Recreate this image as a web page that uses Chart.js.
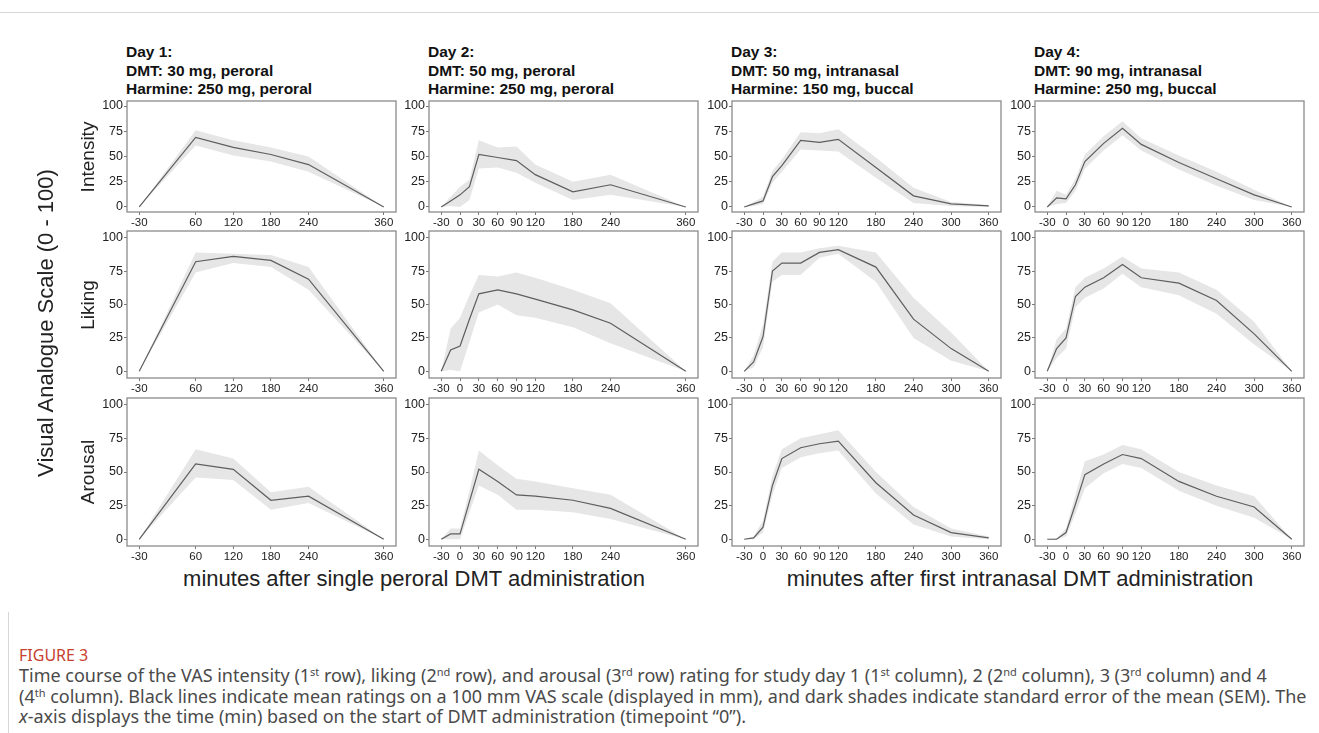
<!DOCTYPE html>
<html>
<head>
<meta charset="utf-8">
<script src="https://cdn.jsdelivr.net/npm/chart.js@4.4.1/dist/chart.umd.min.js"></script>
<style>
body { margin: 0; background: #fff; width: 1319px; height: 733px; position: relative; overflow: hidden;
       font-family: "Liberation Sans", Arial, sans-serif; }
.abs { position: absolute; }
.title { font-weight: bold; font-size: 15.5px; line-height: 18.5px; color: #111; white-space: nowrap; }
.rowlab { font-size: 19px; color: #222; transform: translate(-50%, -50%) rotate(-90deg); white-space: nowrap; }
.xtitle { font-size: 22px; color: #222; transform: translateX(-50%); white-space: nowrap; }
.ytitle { font-size: 22px; color: #222; transform: translate(-50%, -50%) rotate(-90deg); white-space: nowrap; }
#topline { left: 0; top: 12px; width: 1319px; height: 1px; background: #d6d6d6; }
#caption { left: 8px; top: 612px; height: 121px; border-left: 1px solid #d6d6d6; padding-left: 10px;
           font-family: "Noto Sans", sans-serif; color: #4a4a4a; font-size: 18px; }
#caption .fig { color: #c8412f; font-size: 16px; margin-top: 33px; line-height: 20px; }
#caption .txt { line-height: 20.5px; white-space: nowrap; }
sup { font-size: 11px; vertical-align: 6px; line-height: 0; }
</style>
</head>
<body>
<div class="abs" id="topline"></div>
<div id="fig"></div>
<div class="abs" id="caption">
  <div class="fig">FIGURE 3</div>
  <div class="txt">Time course of the VAS intensity (1<sup>st</sup> row), liking (2<sup>nd</sup> row), and arousal (3<sup>rd</sup> row) rating for study day 1 (1<sup>st</sup> column), 2 (2<sup>nd</sup> column), 3 (3<sup>rd</sup> column) and 4</div>
  <div class="txt">(4<sup>th</sup> column). Black lines indicate mean ratings on a 100 mm VAS scale (displayed in mm), and dark shades indicate standard error of the mean (SEM). The</div>
  <div class="txt"><i>x</i>-axis displays the time (min) based on the start of DMT administration (timepoint “0”).</div>
</div>
<script>
const dayLabels = ['Day 1:', 'Day 2:', 'Day 3:', 'Day 4:'];
const dmtLabels = ['DMT: 30 mg, peroral', 'DMT: 50 mg, peroral', 'DMT: 50 mg, intranasal', 'DMT: 90 mg, intranasal'];
const harmineLabels = ['Harmine: 250 mg, peroral', 'Harmine: 250 mg, peroral', 'Harmine: 150 mg, buccal', 'Harmine: 250 mg, buccal'];
const measures = ['Intensity', 'Liking', 'Arousal'];

// sampling times (min) per study day
const timesDay1 = [-30, 60, 120, 180, 240, 360];
const timesDay2 = [-30, -15, 0, 15, 30, 60, 90, 120, 180, 240, 360];
const timesDay3 = [-30, -15, 0, 15, 30, 60, 90, 120, 180, 240, 300, 360];
const timesDay4 = [-30, -15, 0, 15, 30, 60, 90, 120, 180, 240, 300, 360];

const ticksDay1 = [-30, 60, 120, 180, 240, 360];
const ticksDay2 = [-30, 0, 30, 60, 90, 120, 180, 240, 360];
const ticksDay34 = [-30, 0, 30, 60, 90, 120, 180, 240, 300, 360];
const yTicks = [0, 25, 50, 75, 100];

// mean and mean +/- SEM, one array per day
const intensityMean = [
  [0, 69, 59, 52, 42, 0],
  [0, 6, 12, 20, 52, 49, 46, 32, 15, 22, 0],
  [0, 3, 6, 30, 41, 66, 64, 67, 39, 11, 3, 1],
  [0, 9, 8, 22, 45, 63, 78, 62, 44, 28, 12, 0]
];
const intensityUpper = [
  [0, 76, 66, 59, 50, 0],
  [0, 10, 20, 27, 66, 59, 60, 42, 25, 32, 0],
  [0, 5, 10, 36, 47, 74, 73, 77, 49, 19, 5, 2],
  [0, 16, 12, 28, 52, 70, 85, 68, 51, 35, 17, 0]
];
const intensityLower = [
  [0, 61, 51, 45, 35, 0],
  [0, 1, 0, 7, 38, 39, 34, 24, 7, 12, 0],
  [0, 1, 3, 24, 35, 57, 56, 55, 29, 4, 1, 0],
  [0, 3, 4, 16, 38, 56, 71, 56, 37, 21, 7, 0]
];

const likingMean = [
  [0, 82, 86, 83, 69, 0],
  [0, 16, 19, 39, 58, 61, 58, 54, 46, 36, 0],
  [0, 7, 26, 75, 81, 81, 89, 91, 78, 39, 17, 0],
  [0, 17, 25, 56, 63, 70, 80, 70, 66, 53, 28, 0]
];
const likingUpper = [
  [0, 89, 88, 87, 78, 0],
  [0, 32, 40, 57, 72, 71, 74, 70, 61, 51, 0],
  [0, 12, 35, 82, 89, 89, 92, 94, 89, 55, 29, 0],
  [0, 24, 32, 63, 70, 77, 86, 77, 74, 61, 37, 0]
];
const likingLower = [
  [0, 74, 81, 78, 61, 0],
  [0, 1, 0, 22, 44, 50, 42, 40, 33, 21, 0],
  [0, 3, 18, 67, 72, 72, 85, 88, 67, 25, 8, 0],
  [0, 10, 17, 48, 55, 62, 73, 63, 57, 43, 20, 0]
];

const arousalMean = [
  [0, 56, 52, 29, 32, 0],
  [0, 4, 4, 28, 52, 43, 33, 32, 29, 23, 0],
  [0, 1, 9, 40, 60, 68, 71, 73, 42, 18, 5, 1],
  [0, 0, 5, 26, 48, 56, 63, 60, 43, 32, 24, 0]
];
const arousalUpper = [
  [0, 67, 60, 35, 39, 0],
  [0, 8, 8, 36, 66, 55, 45, 43, 38, 33, 0],
  [0, 2, 14, 47, 67, 75, 78, 81, 50, 24, 8, 2],
  [0, 1, 8, 33, 58, 63, 70, 67, 50, 40, 32, 0]
];
const arousalLower = [
  [0, 46, 44, 22, 27, 0],
  [0, 0, 0, 20, 40, 33, 22, 22, 20, 15, 0],
  [0, 0, 5, 33, 53, 61, 64, 66, 34, 11, 2, 0],
  [0, 0, 2, 19, 38, 49, 56, 53, 36, 25, 16, 0]
];

const times = [timesDay1, timesDay2, timesDay3, timesDay4];
const xTicks = [ticksDay1, ticksDay2, ticksDay34, ticksDay34];
const means = [intensityMean, likingMean, arousalMean];
const uppers = [intensityUpper, likingUpper, arousalUpper];
const lowers = [intensityLower, likingLower, arousalLower];

// layout
const colLeft = [127, 429, 732, 1035];
const plotW = 269;
const rowTop = [101, 231, 398];
const rowH = [111, 147, 148];
const yAxisW = 32, xAxisH = 20, padTop = 12, padRight = 6;
const FONT = '"Liberation Sans", Arial, sans-serif';

const fig = document.getElementById('fig');

function addDiv(cls, text, style) {
  const d = document.createElement('div');
  d.className = 'abs ' + cls;
  d.innerHTML = text;
  Object.assign(d.style, style);
  fig.appendChild(d);
  return d;
}

const boxPlugin = {
  id: 'panelBox',
  afterDraw(chart) {
    const a = chart.chartArea, ctx = chart.ctx;
    ctx.save();
    ctx.strokeStyle = '#8a8a8a';
    ctx.lineWidth = 1.3;
    ctx.strokeRect(a.left, a.top, a.right - a.left, a.bottom - a.top);
    ctx.restore();
  }
};

function pts(t, v) { return t.map((x, i) => ({ x: x, y: v[i] })); }

for (let c = 0; c < 4; c++) {
  addDiv('title', dayLabels[c] + '<br>' + dmtLabels[c] + '<br>' + harmineLabels[c],
         { left: (colLeft[c] - 1) + 'px', top: '43px' });
  for (let r = 0; r < 3; r++) {
    const wrap = document.createElement('div');
    wrap.className = 'abs';
    wrap.style.left = (colLeft[c] - yAxisW) + 'px';
    wrap.style.top = (rowTop[r] - padTop) + 'px';
    const cv = document.createElement('canvas');
    cv.width = yAxisW + plotW + padRight;
    cv.height = padTop + rowH[r] + xAxisH;
    wrap.appendChild(cv);
    fig.appendChild(wrap);

    const tk = xTicks[c];
    new Chart(cv, {
      type: 'line',
      data: {
        datasets: [
          // first dataset is painted last, so the mean line sits on top of the band
          { data: pts(times[c], means[r][c]), borderColor: '#5e5e5e', borderWidth: 1.2, pointRadius: 0, fill: false },
          { data: pts(times[c], uppers[r][c]), borderWidth: 0, borderColor: 'rgba(0,0,0,0)', pointRadius: 0, fill: '+1', backgroundColor: '#e6e6e6' },
          { data: pts(times[c], lowers[r][c]), borderWidth: 0, borderColor: 'rgba(0,0,0,0)', pointRadius: 0, fill: false }
        ]
      },
      options: {
        responsive: false,
        animation: false,
        events: [],
        layout: { padding: { top: padTop, right: padRight, left: 0, bottom: 0 } },
        plugins: { legend: { display: false }, tooltip: { enabled: false } },
        scales: {
          x: {
            type: 'linear', min: -49.5, max: 379.5,
            afterBuildTicks: s => { s.ticks = tk.map(v => ({ value: v })); },
            afterFit: s => { s.height = xAxisH; },
            ticks: { autoSkip: false, maxRotation: 0, minRotation: 0, padding: 1, color: '#222', font: { size: 11.5, family: FONT } },
            grid: { drawOnChartArea: false, tickLength: 3, color: '#777' },
            border: { display: false }
          },
          y: {
            min: -5, max: 105,
            afterBuildTicks: s => { s.ticks = yTicks.map(v => ({ value: v })); },
            afterFit: s => { s.width = yAxisW; },
            ticks: { padding: 1, color: '#222', font: { size: 12.5, family: FONT } },
            grid: { drawOnChartArea: false, tickLength: 3, color: '#777' },
            border: { display: false }
          }
        }
      },
      plugins: [boxPlugin]
    });
  }
}

for (let r = 0; r < 3; r++) {
  addDiv('rowlab', measures[r], { left: '88px', top: (rowTop[r] + rowH[r] / 2) + 'px' });
}
addDiv('ytitle', 'Visual Analogue Scale (0 - 100)', { left: '46px', top: '323px' });
addDiv('xtitle', 'minutes after single peroral DMT administration', { left: '414px', top: '566px' });
addDiv('xtitle', 'minutes after first intranasal DMT administration', { left: '1020px', top: '566px' });
</script>
</body>
</html>
